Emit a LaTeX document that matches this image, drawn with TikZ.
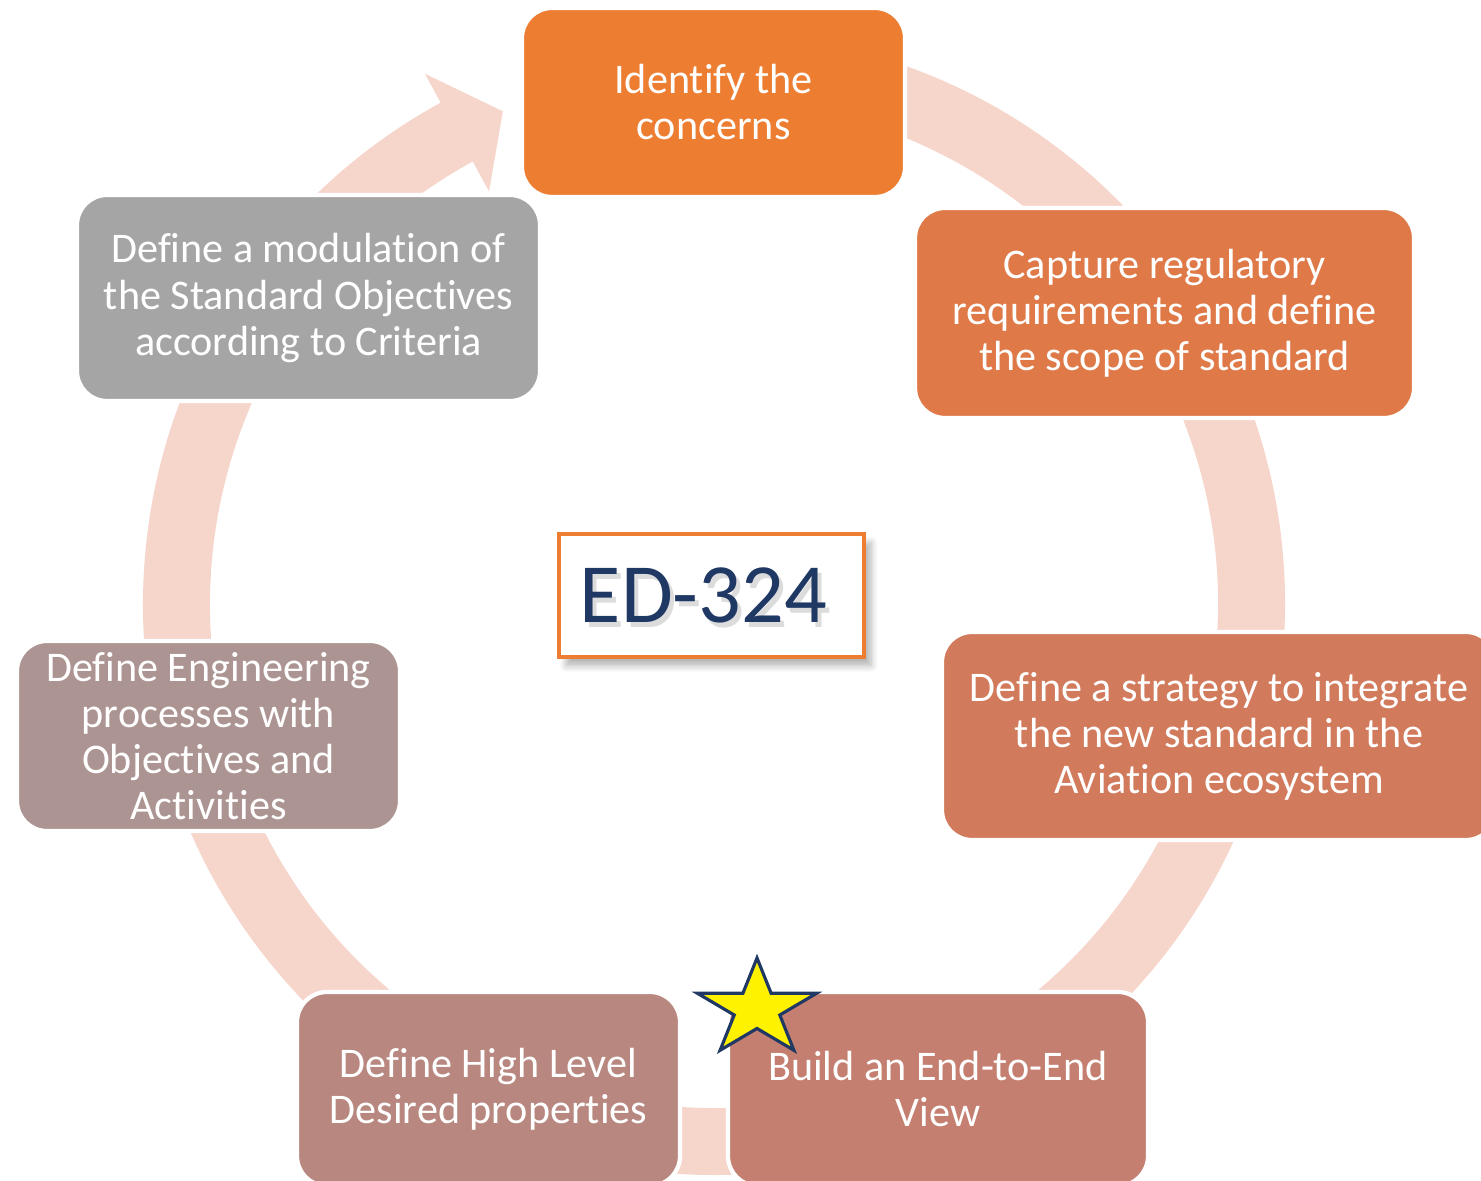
\documentclass[tikz,border=0pt]{standalone}
\usepackage{fontspec}
\setmainfont{Carlito}[RawFeature={-liga;-clig;-calt;-dlig}]
\usetikzlibrary{shapes.geometric,shadows.blur}

\definecolor{ringpink}{RGB}{246,213,203}
\definecolor{stepA}{RGB}{237,125,49}
\definecolor{stepB}{RGB}{223,122,72}
\definecolor{stepC}{RGB}{210,122,92}
\definecolor{stepD}{RGB}{196,127,112}
\definecolor{stepE}{RGB}{184,136,128}
\definecolor{stepF}{RGB}{172,148,146}
\definecolor{stepG}{RGB}{165,165,165}
\definecolor{edblue}{RGB}{31,56,100}

\begin{document}
\begin{tikzpicture}[
  stage/.style={rounded corners=0.3cm, draw=white, line width=1.2pt, text=white,
    align=center, inner sep=0pt, font=\fontsize{12}{13.1}\selectfont},
  edbox/.style={draw=stepA, line width=0.9pt, fill=white, minimum width=3.05cm,
    minimum height=1.23cm, blur shadow={shadow xshift=2pt, shadow yshift=-2.5pt, shadow blur steps=6, shadow opacity=30}},
  edtext/.style={font=\fontsize{24}{26}\selectfont}]
\useasboundingbox (0,0) rectangle (14.81,11.81);
\clip (0,0) rectangle (14.81,11.81);

% the cycle ring, open under the first step, with its head at the top left
\fill[ringpink, shift={(7.14,5.77)}]
  (85:5.71) arc[start angle=85, end angle=-241.4, radius=5.71]
  -- (118.6:6.04) -- (113.2:5.36) -- (118.6:4.70) -- (118.6:5.04)
  arc[start angle=-241.4, end angle=85, radius=5.04] -- cycle;

\node[stage, fill=stepA, minimum width=3.83cm, minimum height=1.89cm] (concerns) at (7.135,10.785)
  {Identify the\\concerns};
\node[stage, fill=stepB, minimum width=4.99cm, minimum height=2.10cm] (scope) at (11.645,8.68)
  {Capture regulatory\\requirements and define\\the scope of standard};
\node[stage, fill=stepC, minimum width=5.54cm, minimum height=2.08cm] (strategy) at (12.19,4.45)
  {Define a strategy to integrate\\the new standard in the\\Aviation ecosystem};
\node[stage, fill=stepD, minimum width=4.20cm, minimum height=1.94cm] (endtoend) at (9.38,0.92)
  {Build an End-to-End\\View};
\node[stage, fill=stepE, minimum width=3.83cm, minimum height=1.94cm] (highlevel) at (4.885,0.92)
  {Define High Level\\Desired properties};
\node[stage, fill=stepF, minimum width=3.83cm, minimum height=1.90cm] (engineering) at (2.085,4.45)
  {Define Engineering\\processes with\\Objectives and\\Activities};
\node[stage, fill=stepG, minimum width=4.63cm, minimum height=2.06cm] (modulation) at (3.085,8.83)
  {Define a modulation of\\the Standard Objectives\\according to Criteria};

\node[edbox] (ed) at (7.115,5.855) {};
\node[edtext, text=black!30, opacity=0.45] at ([xshift=-0.04cm, yshift=-0.05cm]ed.center) {ED-324};
\node[edtext, text=edblue] (edlabel) at ([xshift=-0.08cm]ed.center) {ED-324};

\node[star, star points=5, star point ratio=2.618, draw=edblue, line width=0.9pt, fill=yellow,
  minimum size=1.02cm, inner sep=0pt, xscale=1.23] (mark) at (7.57,1.72) {};
\end{tikzpicture}
\end{document}
